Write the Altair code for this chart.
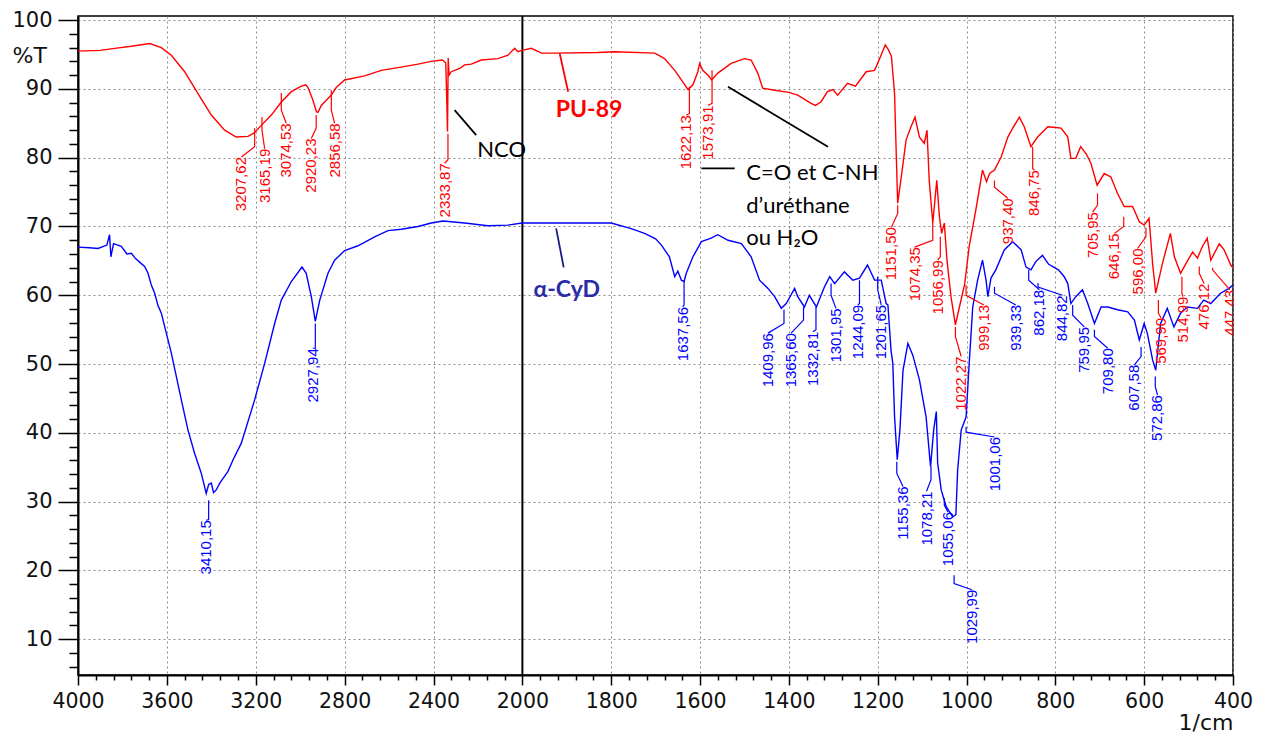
import altair as alt
import pandas as pd

# ---------------- spectra (wavenumber in 1/cm, transmittance %T) ----------------
PU_WN = [4000, 3900, 3835, 3760, 3677, 3625, 3580, 3520, 3460, 3400, 3340, 3288, 3235, 3207,
         3175, 3130, 3085, 3040, 2995, 2975, 2965, 2943, 2927, 2920, 2905, 2875, 2860, 2838,
         2800, 2710, 2635, 2560, 2470, 2410, 2360, 2345, 2340, 2337, 2334, 2330, 2320, 2282,
         2260, 2230, 2185, 2110, 2065, 2035, 2020, 2002, 1980, 1957, 1927, 1830, 1792, 1702,
         1680, 1657, 1642, 1627, 1616, 1605, 1601, 1594, 1582, 1574, 1560, 1530, 1500, 1485,
         1470, 1459, 1432, 1400, 1380, 1350, 1340, 1328, 1313, 1301, 1290, 1268, 1250, 1226,
         1207, 1195, 1183, 1175, 1169, 1162, 1158, 1155, 1148, 1136, 1125, 1116, 1106, 1095,
         1089, 1084, 1076, 1067, 1061, 1056, 1050, 1044, 1035, 1025, 1016, 1004, 994, 979,
         964, 955, 948, 937, 922, 907, 896, 881, 870, 855, 840, 817, 800, 787, 772, 765, 754,
         743, 730, 720, 706, 690, 675, 660, 645, 626, 611, 600, 589, 581, 574, 559, 541, 532,
         518, 506, 491, 480, 469, 458, 450, 431, 420, 405, 400]
PU_T = [95.5, 95.6, 95.9, 96.2, 96.6, 96.0, 94.9, 92.5, 89.3, 86.2, 84.0, 83.0, 83.1, 83.6,
        84.7, 86.2, 88.1, 89.6, 90.4, 90.6, 90.2, 88.4, 86.7, 86.6, 87.6, 88.6, 89.1, 90.2,
        91.3, 91.9, 92.7, 93.1, 93.6, 94.0, 94.2, 93.8, 88.0, 83.8, 94.5, 92.0, 92.5, 93.0,
        93.5, 93.6, 94.2, 94.4, 94.9, 95.9, 95.4, 95.6, 95.9, 95.2, 95.2, 95.3, 95.4, 95.2,
        94.4, 92.7, 91.3, 89.9, 90.6, 92.5, 93.7, 92.7, 92.0, 91.3, 92.3, 93.7, 94.4, 94.2,
        92.3, 90.1, 89.8, 89.5, 89.1, 87.9, 87.6, 88.1, 89.6, 89.9, 89.1, 90.8, 90.4, 92.5,
        92.7, 94.5, 96.4, 95.6, 94.7, 89.3, 80.0, 73.4, 76.7, 82.6, 84.5, 85.9, 83.0, 82.1,
        84.0, 76.7, 70.5, 76.7, 71.4, 69.0, 70.5, 65.1, 59.8, 55.7, 58.3, 61.7, 67.1, 72.4,
        78.2, 76.5, 77.7, 78.2, 80.1, 83.0, 84.3, 85.9, 84.5, 81.6, 83.0, 84.5, 84.4, 84.3,
        83.0, 79.9, 79.9, 81.6, 80.5, 79.2, 76.0, 77.7, 77.2, 74.8, 72.9, 72.9, 70.7, 70.2,
        71.2, 64.6, 60.3, 64.6, 69.0, 65.6, 63.2, 64.6, 66.3, 65.4, 67.1, 68.3, 65.1, 67.5,
        66.6, 64.4, 64.0]

CYD_WN = [4000, 3950, 3910, 3870, 3858, 3852, 3840, 3805, 3780, 3760, 3740, 3715, 3700, 3685,
          3670, 3655, 3640, 3625, 3580, 3535, 3505, 3475, 3445, 3423, 3412, 3400, 3390, 3378,
          3362, 3325, 3302, 3265, 3205, 3160, 3115, 3085, 3040, 2992, 2973, 2950, 2932, 2912,
          2875, 2845, 2800, 2740, 2665, 2605, 2545, 2470, 2410, 2357, 2320, 2260, 2155, 2065,
          2002, 1942, 1845, 1800, 1755, 1725, 1700, 1687, 1669, 1657, 1650, 1642, 1636, 1631,
          1616, 1597, 1575, 1560, 1537, 1507, 1485, 1466, 1447, 1432, 1417, 1406, 1387, 1380,
          1365, 1354, 1338, 1320, 1308, 1297, 1275, 1256, 1241, 1223, 1207, 1192, 1181, 1177,
          1170, 1166, 1162, 1156, 1150, 1143, 1132, 1121, 1106, 1091, 1081, 1074, 1068, 1065,
          1057, 1046, 1031, 1024, 1020, 1012, 1001, 994, 986, 975, 964, 956, 952, 945, 934,
          915, 896, 877, 866, 855, 844, 829, 815, 793, 780, 772, 765, 754, 739, 727, 712, 697,
          682, 660, 637, 622, 611, 600, 593, 581, 574, 563, 548, 533, 518, 503, 480, 466, 450,
          428, 409, 400]
CYD_T = [67.0, 66.9, 66.8, 67.3, 68.8, 65.6, 67.5, 67.1, 66.0, 66.1, 65.3, 64.6, 64.2, 63.2,
         61.5, 60.3, 58.5, 57.4, 51.6, 44.8, 40.4, 37.0, 34.1, 31.2, 32.5, 32.7, 31.3, 31.7,
         32.7, 34.4, 36.1, 38.5, 44.8, 50.1, 55.9, 59.3, 62.0, 64.1, 63.2, 59.8, 56.2, 59.3,
         63.2, 65.1, 66.5, 67.2, 68.5, 69.4, 69.6, 70.0, 70.5, 70.8, 70.7, 70.5, 70.1, 70.2,
         70.5, 70.5, 70.5, 70.5, 69.7, 69.0, 68.2, 67.3, 65.6, 62.7, 63.5, 62.2, 62.0, 63.2,
         65.6, 67.8, 68.3, 68.8, 68.0, 67.5, 65.6, 62.2, 61.0, 59.8, 58.1, 58.8, 61.0, 59.8,
         58.3, 60.0, 58.3, 61.2, 62.7, 61.7, 63.4, 62.2, 62.5, 64.4, 62.2, 62.2, 58.8, 58.6,
         52.0, 50.1, 42.3, 36.1, 40.4, 49.1, 53.0, 51.3, 47.7, 42.3, 35.1, 40.4, 43.1, 35.6,
         31.7, 29.3, 27.8, 28.1, 34.6, 40.4, 42.3, 50.1, 58.3, 62.2, 65.1, 62.2, 59.8, 62.5,
         63.7, 66.6, 67.8, 66.6, 64.1, 63.7, 64.9, 65.8, 64.5, 63.7, 62.7, 61.7, 58.8, 59.8,
         60.8, 58.8, 55.9, 58.3, 58.3, 57.9, 57.6, 56.4, 53.5, 55.9, 54.5, 50.6, 49.1, 55.9,
         58.1, 55.4, 57.4, 58.3, 58.1, 59.3, 58.8, 60.3, 61.0, 61.5]

# peak labels: (text, peak wavenumber, leader start %T, leader knee %T, label wavenumber, label top %T)
PU_PEAKS = [
    ("3207,62", 3205, 84.3, 81.6, 3265, 80.1), ("3165,19", 3172, 85.9, 84.0, 3160, 81.3),
    ("3074,53", 3085, 89.4, 86.9, 3063, 85.0), ("2920,23", 2928, 86.2, 84.3, 2950, 82.8),
    ("2856,58", 2860, 89.8, 86.9, 2845, 85.0), ("2333,87", 2335, 83.5, 79.7, 2350, 79.2),
    ("1622,13", 1624, 90.3, 86.4, 1631, 86.2), ("1573,91", 1573, 92.7, 87.9, 1582, 87.6),
    ("1151,50", 1155, 73.1, 71.9, 1169, 69.9), ("1074,35", 1076, 70.5, 68.0, 1117, 67.0),
    ("1056,99", 1059, 68.5, 65.6, 1065, 65.1), ("1022,27", 1025, 55.4, 54.0, 1012, 51.1),
    ("999,13", 1001, 61.5, 60.0, 961, 58.6), ("937,40", 937, 76.7, 75.7, 907, 74.1),
    ("846,75", 851, 81.6, 78.4, 847, 78.2), ("705,95", 705, 74.8, 73.1, 716, 72.1),
    ("646,15", 646, 71.4, 70.0, 667, 69.0), ("596,00", 596, 69.8, 68.5, 615, 66.8),
    ("569,90", 568, 59.3, 57.4, 562, 56.7), ("514,99", 515, 62.7, 60.3, 513, 59.8),
    ("476,12", 476, 64.2, 63.2, 465, 61.7), ("447,43", 446, 64.0, 63.7, 407, 60.8),
]
CYD_PEAKS = [
    ("3410,15", 3412, 30.2, 27.4, 3423, 27.3), ("2927,94", 2932, 55.9, 52.3, 2943, 52.3),
    ("1637,56", 1636, 62.2, 58.6, 1639, 58.3), ("1409,96", 1411, 57.9, 55.9, 1447, 54.5),
    ("1365,60", 1367, 58.3, 56.4, 1395, 54.5), ("1332,81", 1339, 58.3, 55.0, 1346, 54.7),
    ("1301,95", 1305, 61.7, 60.0, 1294, 58.1), ("1244,09", 1241, 62.2, 58.8, 1245, 58.6),
    ("1201,65", 1200, 62.7, 60.8, 1192, 58.6), ("1155,36", 1157, 35.8, 34.1, 1143, 32.2),
    ("1078,21", 1080, 35.1, 33.2, 1090, 31.5), ("1055,06", 1050, 30.5, 29.5, 1042, 28.5),
    ("1029,99", 1028, 19.3, 18.1, 988, 17.2), ("1001,06", 1001, 40.9, 40.1, 937, 39.4),
    ("939,33", 937, 61.2, 60.3, 889, 58.6), ("862,18", 860, 63.7, 62.2, 836, 60.8),
    ("844,82", 839, 61.8, 61.2, 784, 60.0), ("759,95", 761, 58.6, 57.1, 735, 55.4),
    ("709,80", 712, 55.0, 54.0, 682, 52.3), ("607,58", 607, 52.5, 51.1, 622, 49.9),
    ("572,86", 575, 48.2, 46.7, 570, 45.5),
]

# annotations
ANNOT_BOLD_TEXT = ["PU-89", "α-CyD"]
ANNOT_BOLD_WN = [1850, 1900]
ANNOT_BOLD_T = [85.95, 59.8]
ANNOT_BOLD_COLOR = ["#ff0000", "#2b2ba6"]
ANNOT_TEXT = ["NCO", "C=O et C-NH", "d’uréthane", "ou H₂O"]
ANNOT_WN = [2203, 1496, 1496, 1496]
ANNOT_T = [80.1, 76.75, 71.95, 67.3]
ANNOT_LEAD_WN1 = [1916, 1924, 2305, 1597, 1537]
ANNOT_LEAD_T1 = [95.16, 69.73, 86.92, 78.45, 90.31]
ANNOT_LEAD_WN2 = [1897, 1907, 2208, 1522, 1312]
ANNOT_LEAD_T2 = [89.58, 64.06, 83.29, 78.45, 81.59]
ANNOT_LEAD_COLOR = ["#ff0000", "#1a1a8c", "black", "black", "black"]

SERIES = ["PU-89", "α-CyD"]
SERIES_COLORS = ["#ff0000", "#0000ff"]

# axis tick values
X_TICKS = list(range(4000, 2000, -80)) + list(range(2000, 399, -40))
Y_TICKS = list(range(6, 101, 2))

W, H = 1155, 659

# ---------------- build tables ----------------
curve_rows = []
for name, wns, ts in [("PU-89", PU_WN, PU_T), ("α-CyD", CYD_WN, CYD_T)]:
    for i, (w, t) in enumerate(zip(wns, ts)):
        curve_rows.append({"series": name, "i": i, "wn": w, "T": t})
curves = pd.DataFrame(curve_rows)

lead_rows, label_rows = [], []
for color, peaks in [("#ff0000", PU_PEAKS), ("#0000ff", CYD_PEAKS)]:
    for k, (txt, pw, t1, t2, lw, lt) in enumerate(peaks):
        key = color + txt
        lead_rows += [
            {"id": key, "seq": 0, "wn": pw, "T": t1, "col": color},
            {"id": key, "seq": 1, "wn": pw, "T": t2, "col": color},
            {"id": key, "seq": 2, "wn": lw, "T": lt, "col": color},
        ]
        label_rows.append({"txt": txt, "wn": lw, "T": lt, "col": color})
leads = pd.DataFrame(lead_rows)
labels = pd.DataFrame(label_rows)

annot_bold = pd.DataFrame({"txt": ANNOT_BOLD_TEXT, "wn": ANNOT_BOLD_WN, "T": ANNOT_BOLD_T,
                           "col": ANNOT_BOLD_COLOR})
annot = pd.DataFrame({"txt": ANNOT_TEXT, "wn": ANNOT_WN, "T": ANNOT_T})
annot_leads = pd.DataFrame({"wn": ANNOT_LEAD_WN1, "T": ANNOT_LEAD_T1, "wn2": ANNOT_LEAD_WN2,
                            "T2": ANNOT_LEAD_T2, "col": ANNOT_LEAD_COLOR})
sep = pd.DataFrame({"wn": [2000]})

# ---------------- scales & axes ----------------
XSCALE = alt.Scale(domain=[4000, 2000, 400], range=[0, 444.4, W], nice=False, zero=False)
YSCALE = alt.Scale(domain=[4.8, 100.6], nice=False, zero=False)

x_major = "(datum.value >= 2000 ? datum.value % 400 === 0 : datum.value % 200 === 0)"
y_major = "(datum.value % 10 === 0)"

XAXIS = alt.Axis(
    values=X_TICKS, format="d", labelOverlap=False, labelFlush=False,
    labelExpr=f"{x_major} ? datum.label : ''",
    labelFont="DejaVu Sans", labelFontSize=20.5, labelColor="#111", labelPadding=6,
    tickColor="black", tickWidth=1.5,
    tickSize={"condition": {"test": x_major, "value": 10}, "value": 5},
    domainColor="black", domainWidth=2,
    grid=True, gridColor="#8c8c8c", gridDash=[2, 3], gridWidth=1,
    gridOpacity={"condition": {"test": x_major, "value": 1}, "value": 0},
    title="1/cm", titleFont="DejaVu Sans", titleFontSize=22, titleFontWeight="normal",
    titleColor="#111", titleAlign="right", titleBaseline="alphabetic", titleX=W, titleY=54,
)
YAXIS = alt.Axis(
    values=Y_TICKS, format="d", labelOverlap=False, labelFlush=False,
    labelExpr=f"{y_major} ? datum.label : ''",
    labelFont="DejaVu Sans", labelFontSize=21, labelColor="#111", labelPadding=6,
    tickColor="black", tickWidth=1.5,
    tickSize={"condition": {"test": y_major, "value": 20}, "value": 9},
    domainColor="black", domainWidth=2,
    grid=True, gridColor="#8c8c8c", gridDash=[2, 3], gridWidth=1,
    gridOpacity={"condition": {"test": y_major, "value": 1}, "value": 0},
    title="%T", titleFont="DejaVu Sans", titleFontSize=22, titleFontWeight="normal",
    titleColor="#111", titleAngle=0, titleAlign="left", titleBaseline="alphabetic",
    titleX=-66, titleY=46,
)


def X(field="wn"):
    return alt.X(f"{field}:Q", scale=XSCALE, axis=XAXIS)


def Y(field="T"):
    return alt.Y(f"{field}:Q", scale=YSCALE, axis=YAXIS)


sep_rule = alt.Chart(sep).mark_rule(color="black", strokeWidth=2).encode(x=X())

lines = alt.Chart(curves).mark_line(strokeWidth=1.4).encode(
    x=X(), y=Y(), order="i:Q",
    color=alt.Color("series:N", scale=alt.Scale(domain=SERIES, range=SERIES_COLORS), legend=None),
)

lead_lines = alt.Chart(leads).mark_line(strokeWidth=1.2).encode(
    x=X(), y=Y(), order="seq:Q", detail="id:N", color=alt.Color("col:N", scale=None),
)

peak_labels = alt.Chart(labels).mark_text(
    angle=270, align="right", baseline="middle", font="Liberation Sans", fontSize=15, clip=True,
).encode(x=X(), y=Y(), text="txt:N", color=alt.Color("col:N", scale=None))

annot_lead_rules = alt.Chart(annot_leads).mark_rule(strokeWidth=1.8).encode(
    x=X(), y=Y(), x2="wn2:Q", y2="T2:Q", color=alt.Color("col:N", scale=None),
)

bold_text = alt.Chart(annot_bold).mark_text(
    align="center", baseline="alphabetic", font="Lato", fontSize=23, fontWeight="bold",
).encode(x=X(), y=Y(), text="txt:N", color=alt.Color("col:N", scale=None))

plain_text = alt.Chart(annot).mark_text(
    align="left", baseline="alphabetic", font="Lato", fontSize=22, color="black",
).encode(x=X(), y=Y(), text="txt:N")

chart = alt.layer(
    sep_rule, lines, lead_lines, peak_labels, annot_lead_rules, bold_text, plain_text
).properties(
    width=W, height=H,
    autosize=alt.AutoSizeParams(type="none"),
    padding={"left": 70, "top": 8, "right": 20, "bottom": 58},
).configure_view(stroke="black", strokeWidth=1.5)

chart.save("out.html", embed_options={"renderer": "svg", "actions": False})
